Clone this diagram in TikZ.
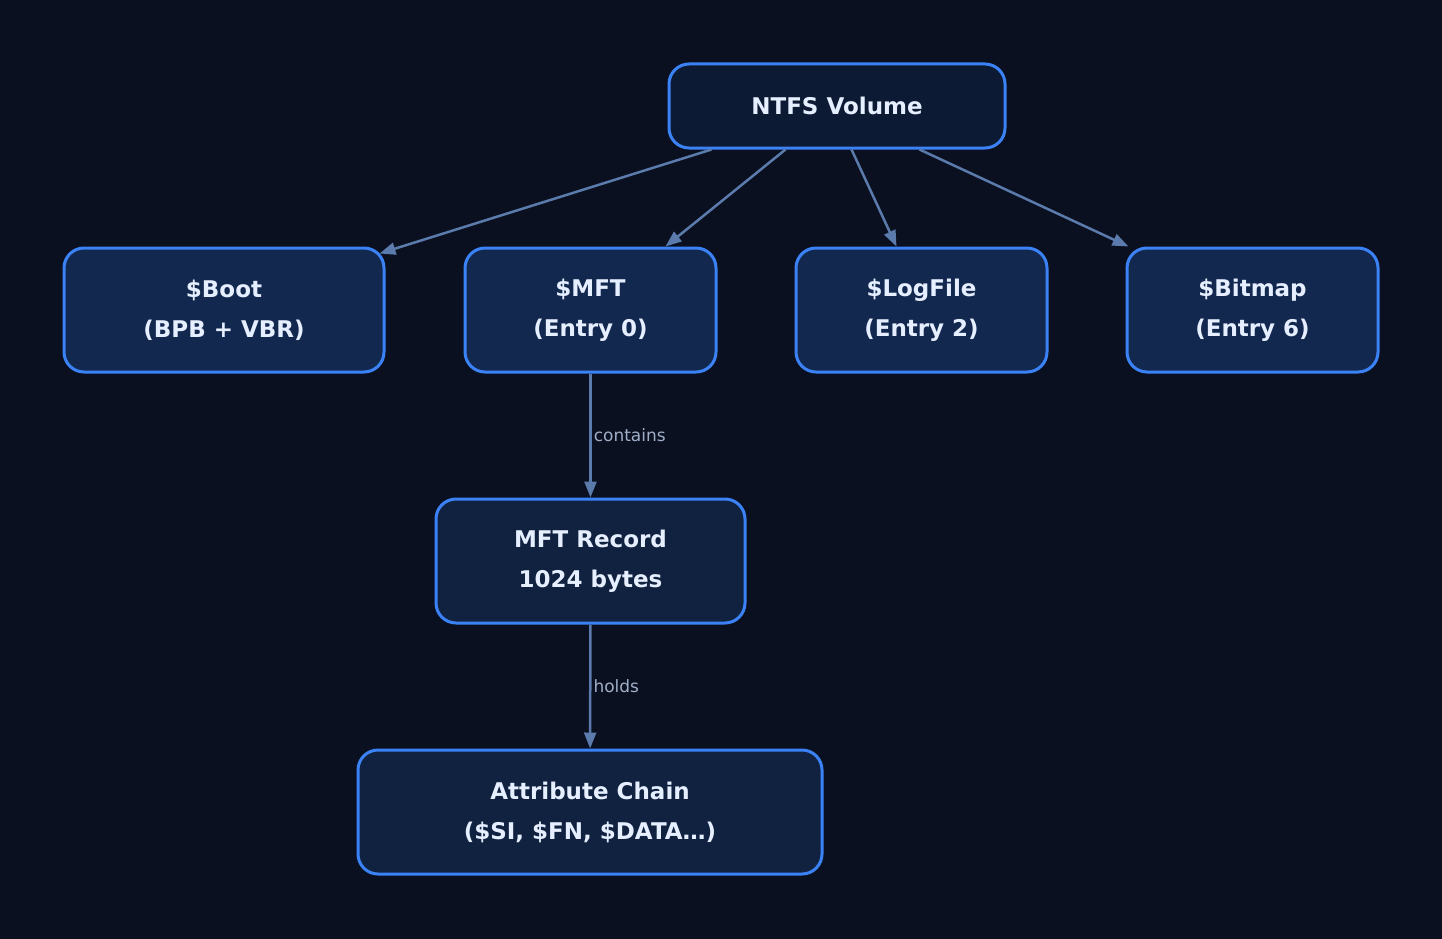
\documentclass[tikz,border=0pt]{standalone}
\usepackage{fontspec}
\setmainfont{DejaVu Sans}
\usetikzlibrary{arrows.meta,calc}
\definecolor{bg}{HTML}{0A1020}
\definecolor{fa}{HTML}{13284F}
\definecolor{fb}{HTML}{10223F}
\definecolor{fc}{HTML}{0D1A33}
\definecolor{bd}{HTML}{3B82F6}
\definecolor{ed}{HTML}{5A7BAB}
\definecolor{tx}{HTML}{E6EFFF}
\definecolor{lb}{HTML}{A0AEC8}
\begin{document}
\begin{tikzpicture}[x=1pt,y=-1pt,
 box/.style={draw=bd,line width=3pt,rounded corners=20pt,text=tx,align=center,
   font=\fontsize{23}{40}\selectfont\bfseries,inner sep=0pt},
 e/.style={draw=ed,line width=2.5pt,-{Triangle[length=16pt,width=12pt]}},
 lab/.style={text=lb,font=\fontsize{17}{20}\selectfont,anchor=west,inner sep=0pt}]
\fill[bg] (0,0) rectangle (1442,939);
\node[box,fill=fc,minimum width=336pt,minimum height=84pt] (ntfs) at (837,106) {NTFS Volume};
\node[box,fill=fa,minimum width=320pt,minimum height=124pt] (boot) at (224,310) {\$Boot\\(BPB + VBR)};
\node[box,fill=fa,minimum width=251pt,minimum height=124pt] (mft) at (590.5,310) {\$MFT\\(Entry 0)};
\node[box,fill=fa,minimum width=251pt,minimum height=124pt] (log) at (921.5,310) {\$LogFile\\(Entry 2)};
\node[box,fill=fa,minimum width=251pt,minimum height=124pt] (bmp) at (1252.5,310) {\$Bitmap\\(Entry 6)};
\node[box,fill=fb,minimum width=309pt,minimum height=124pt] (rec) at (590.5,561) {MFT Record\\1024 bytes};
\node[box,fill=fb,minimum width=464pt,minimum height=124pt] (attr) at (590,812) {Attribute Chain\\(\$SI, \$FN, \$DATA…)};
\draw[e] ($(ntfs.south west)+(44,0)$) -- ($(boot.north east)+(-6,7)$);
\draw[e] ($(ntfs.south west)+(118,0)$) -- ($(mft.north)+(75,0)$);
\draw[e] ($(ntfs.south west)+(184,0)$) -- ($(log.north)+(-25,0)$);
\draw[e] ($(ntfs.south west)+(252,0)$) -- ($(bmp.north west)+(3,0)$);
\draw[e] (mft) -- (rec) node[lab,pos=0.5,xshift=2pt] {contains};
\draw[e] (rec) -- (attr) node[lab,pos=0.5,xshift=2pt] {holds};
\end{tikzpicture}
\end{document}
